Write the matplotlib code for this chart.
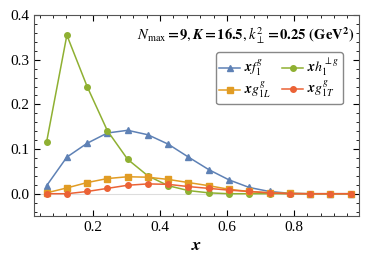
import numpy as np
import matplotlib
matplotlib.use("Agg")
from matplotlib import pyplot as plt
from matplotlib.ticker import MultipleLocator

plt.rcParams['font.family'] = ['Liberation Serif', 'DejaVu Serif']
plt.rcParams['mathtext.fontset'] = 'stix'

# longitudinal momentum fraction x = k / K, K = 16.5
k = np.arange(1, 17)
x = k / 16.5

xf1 = [0.018, 0.082, 0.113, 0.136, 0.142, 0.132, 0.111, 0.082, 0.054, 0.031,
       0.014, 0.005, 0.001, 0.0, 0.0, 0.0]
xh1perp = [0.116, 0.355, 0.240, 0.141, 0.077, 0.040, 0.018, 0.007, 0.002, 0.0,
           0.0, 0.0, 0.0, 0.0, 0.0, 0.0]
xg1L = [0.002, 0.013, 0.025, 0.034, 0.038, 0.037, 0.032, 0.025, 0.018, 0.010,
        0.005, 0.002, 0.001, 0.0, 0.0, 0.0]
xg1T = [0.0, 0.0, 0.005, 0.012, 0.019, 0.022, 0.021, 0.016, 0.012, 0.008,
        0.005, 0.002, 0.0, 0.0, 0.0, 0.0]

labels = [r'$\boldsymbol{xf_1^g}$', r'$\boldsymbol{xh_1^{\perp g}}$',
          r'$\boldsymbol{xg_{1L}^g}$', r'$\boldsymbol{xg_{1T}^g}$']
colors = ['#5e81b5', '#8fb032', '#e19c24', '#eb6235']
markers = ['^', 'o', 's', 'o']

fig = plt.figure(figsize=(3.74, 2.60), dpi=100)
ax = fig.add_axes([0.091, 0.169, 0.869, 0.773])

ax.axhline(0, color='#dddddd', lw=0.8, zorder=0)
lines = []
for y, lab, c, m in zip([xf1, xh1perp, xg1L, xg1T], labels, colors, markers):
    ln, = ax.plot(x, y, color=c, marker=m, ms=4, lw=1.1, label=lab)
    lines.append(ln)

ax.set_xlim(0.023, 0.995)
ax.set_ylim(-0.05, 0.4)
ax.xaxis.set_minor_locator(MultipleLocator(0.04))
ax.yaxis.set_minor_locator(MultipleLocator(0.02))
ax.set_xticks([0.2, 0.4, 0.6, 0.8])
ax.set_yticks([0.0, 0.1, 0.2, 0.3, 0.4])
ax.set_yticklabels(['0.0', '0.1', '0.2', '0.3', '0.4'])
ax.tick_params(which='both', direction='in', top=True, right=True, labelsize=11)
ax.tick_params(which='major', length=4, width=0.8)
ax.tick_params(which='minor', length=2, width=0.6)
for s in ax.spines.values():
    s.set_color('#555555')

ax.set_xlabel(r'$\boldsymbol{x}$', fontsize=13, labelpad=2)
ax.text(0.985, 0.9, r'$\boldsymbol{N_{\rm max}=9, K=16.5, k_\perp^2=0.25}$ $\mathbf{(GeV^2)}$',
        transform=ax.transAxes, ha='right', va='center', fontsize=10.5)

# row-wise order like the original legend
order = [0, 2, 1, 3]
ax.legend([lines[i] for i in order], [labels[i] for i in order],
          ncol=2, loc='upper right', bbox_to_anchor=(0.951, 0.816),
          borderaxespad=0, fontsize=10,
          handlelength=1.5, columnspacing=0.8, handletextpad=0.3,
          edgecolor='#888888', fancybox=True, framealpha=1, borderpad=0.25,
          labelspacing=0.05)

fig.savefig('out.png', dpi=100)
